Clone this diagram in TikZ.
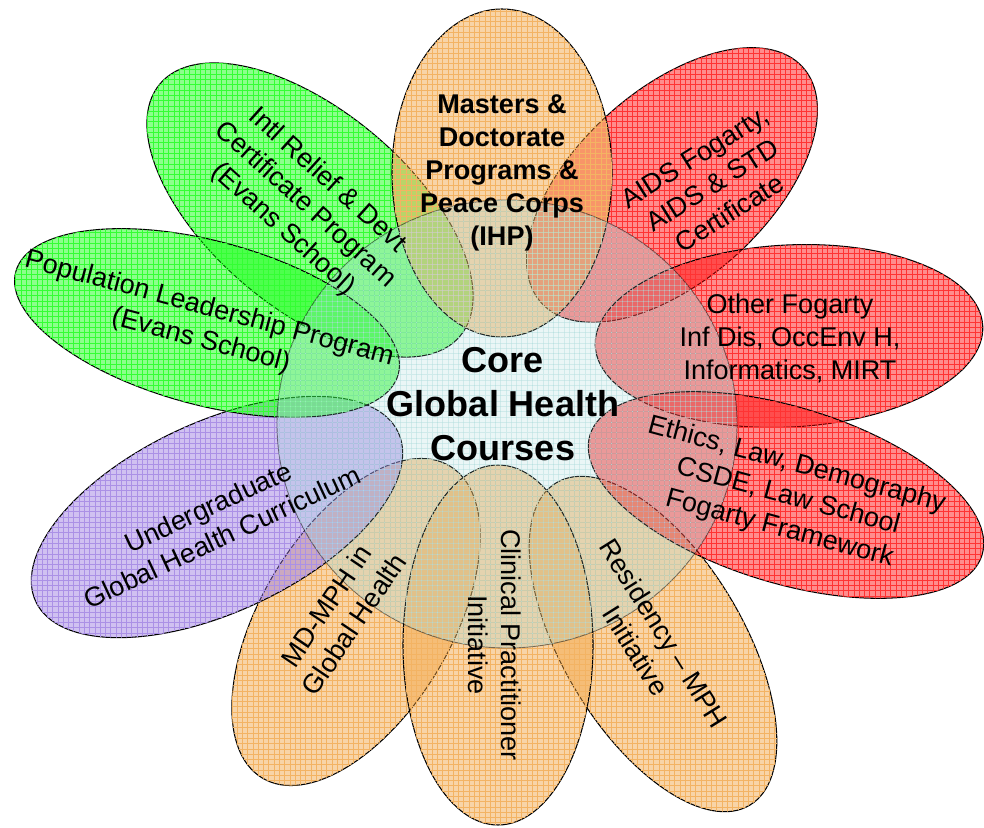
\documentclass[tikz,border=0pt]{standalone}
\usepackage{fontspec}
\setmainfont{Liberation Sans}
\usetikzlibrary{patterns}

\definecolor{petalorange}{RGB}{240,160,60}
\definecolor{petalgreen}{RGB}{0,255,0}
\definecolor{petalred}{RGB}{255,0,0}
\definecolor{petalpurple}{RGB}{150,118,224}
\definecolor{corecyan}{RGB}{150,210,210}

\tikzset{
  petal/.style={draw=black, line width=0.6pt, fill=#1, fill opacity=0.45,
    postaction={pattern=grid, pattern color=#1!80!white, fill opacity=0.5}},
  core/.style={draw=black, draw opacity=0.5, line width=0.5pt, fill=corecyan,
    fill opacity=0.2, postaction={pattern=grid, pattern color=corecyan!70!white, fill opacity=0.3}},
  petaltext/.style={align=center, inner sep=0pt, font=\fontsize{15.4}{18.8}\selectfont},
  coretext/.style={align=center, inner sep=0pt, font=\fontsize{20.5}{25}\selectfont\bfseries},
}

\begin{document}
\begin{tikzpicture}[x=0.02cm, y=-0.02cm]
\useasboundingbox (0,0) rectangle (984,828);

% petals, back to front
\draw[petal=petalred, rotate around={42:(672,185)}] (672,185) ellipse (176 and 95);
\draw[petal=petalgreen, rotate around={-40:(310,210)}] (310,210) ellipse (196 and 99);
\draw[petal=petalorange] (502,173) ellipse (110 and 164);
\draw[petal=petalred, rotate around={3:(789,336)}] (789,336) ellipse (194 and 91);
\draw[petal=petalorange, rotate around={-59:(653,644)}] (653,644) ellipse (188 and 90);
\draw[petal=petalred, rotate around={-17:(786,495)}] (786,495) ellipse (205 and 88);
\draw[petal=petalorange, rotate around={59:(356,622)}] (356,622) ellipse (182 and 95);
\draw[petal=petalorange] (498,645) ellipse (95 and 180);
\draw[petal=petalpurple, rotate around={25:(217,517)}] (217,517) ellipse (200 and 95);
\draw[petal=petalgreen, rotate around={-15:(207,323)}] (207,323) ellipse (198 and 82);

% the core in the middle
\draw[core] (507,424) ellipse (230 and 224);

% labels
\node[petaltext, font=\fontsize{15.4}{18.8}\selectfont\bfseries] (masters) at (502,173)
  {Masters \&\\Doctorate\\Programs \&\\Peace Corps\\(IHP)};
\node[petaltext, rotate=32] (aids) at (712,185) {AIDS Fogarty,\\AIDS \& STD\\Certificate};
\node[petaltext] (fogarty) at (790,338) {Other Fogarty\\Inf Dis, OccEnv H,\\Informatics, MIRT};
\node[petaltext, rotate=-15] (ethics) at (788,497) {Ethics, Law, Demography\\CSDE, Law School\\Fogarty Framework};
\node[petaltext, rotate=-58] (residency) at (650,642) {Residency -- MPH\\Initiative};
\node[petaltext, rotate=-90] (clinical) at (495,645) {Clinical Practitioner\\Initiative};
\node[petaltext, rotate=56] (mdmph) at (340,615) {MD-MPH in\\Global Health};
\node[petaltext, rotate=25] (undergrad) at (215,522) {Undergraduate\\Global Health Curriculum};
\node[petaltext, rotate=-15] (population) at (205,325) {Population Leadership Program\\(Evans School)};
\node[petaltext, rotate=-42] (intl) at (305,205) {Intl Relief \& Devt\\Certificate Program\\(Evans School)};
\node[coretext] (core) at (503,404) {Core\\Global Health\\Courses};
\end{tikzpicture}
\end{document}
